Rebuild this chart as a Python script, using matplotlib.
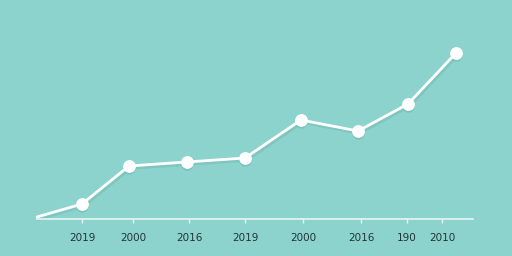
import matplotlib.pyplot as plt

# data (x position on the axis, value)
xs = [37, 82, 129, 187, 245, 301, 358, 408, 456]
values = [39, 52, 90, 94, 98, 136, 125, 152, 203]
tick_pos = [82, 133, 189, 245, 303, 361, 407, 442]
tick_labels = ['2019', '2000', '2016', '2019', '2000', '2016', '190', '2010']

bg = '#8cd3cd'
fig = plt.figure(figsize=(5.12, 2.56), dpi=100, facecolor=bg)
ax = fig.add_axes([0, 0, 1, 1], facecolor=bg)

# soft shadow under the line
ax.plot([x + 1.5 for x in xs], [v - 2 for v in values], color='#6fb3ad',
        linewidth=2.5, alpha=0.4, solid_capstyle='round')
ax.plot(xs[1:], [v - 2 for v in values[1:]], 'o', color='#6fb3ad',
        markersize=8, alpha=0.4)

ax.plot(xs, values, color='white', linewidth=2, solid_capstyle='round')
ax.plot(xs[1:], values[1:], 'o', color='white', markersize=8.2)

ax.set_xlim(0, 512)
ax.set_ylim(0, 256)

for s in ['top', 'right', 'left']:
    ax.spines[s].set_visible(False)
ax.spines['bottom'].set_position(('data', 37))
ax.spines['bottom'].set_bounds(37, 473)
ax.spines['bottom'].set_color('#e8f6f4')
ax.spines['bottom'].set_linewidth(1.2)

ax.set_yticks([])
ax.set_xticks(tick_pos)
ax.set_xticklabels(tick_labels, fontsize=7.5, color='#223435')
ax.tick_params(axis='x', direction='out', length=3, width=1,
               color='#e8f6f4', pad=7)

fig.savefig('out.png', dpi=100, facecolor=bg)
